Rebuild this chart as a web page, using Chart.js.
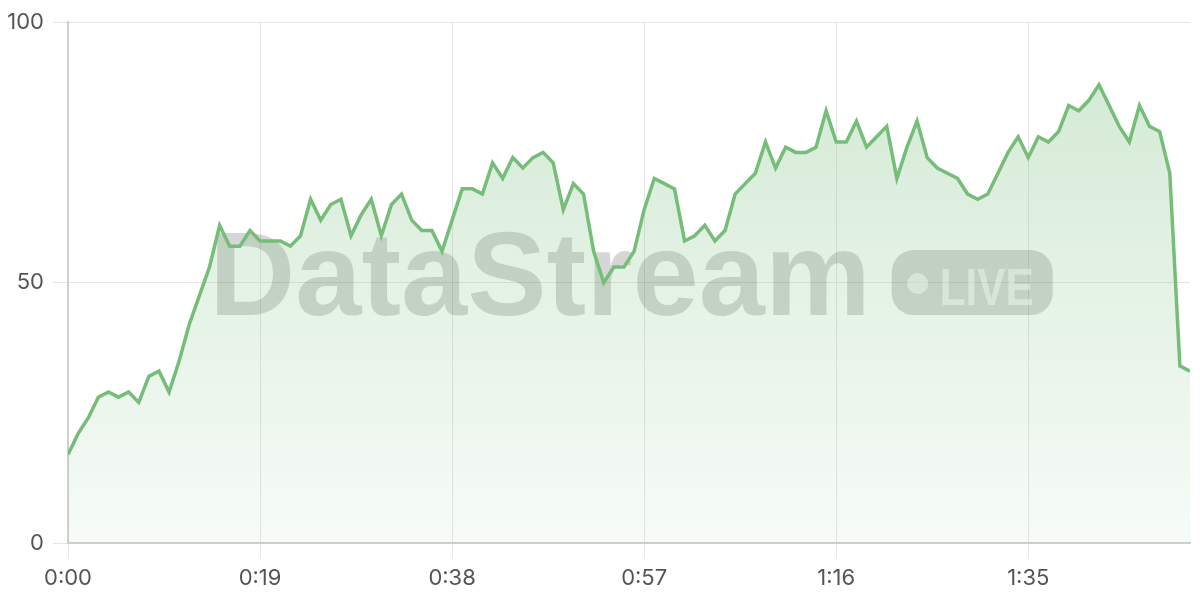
<!DOCTYPE html>
<html>
<head>
<meta charset="utf-8">
<script src="https://cdn.jsdelivr.net/npm/chart.js@4"></script>
<style>
  html, body { margin: 0; padding: 0; background: #ffffff; }
  #wrap { width: 1200px; height: 600px; position: relative; }
</style>
</head>
<body>
<div id="wrap"><canvas id="c" width="1200" height="600"></canvas></div>
<script>
// Values, one per second (0:00 .. 1:51)
const values = [
  17, 21, 24, 28, 29, 28, 29, 27, 32, 33,
  29, 35, 42, 47.5, 53, 61, 57, 57, 60, 58,
  58, 58, 57, 59, 66, 62, 65, 66, 59, 63,
  66, 59, 65, 67, 62, 60, 60, 56, 62, 68,
  68, 67, 73, 70, 74, 72, 74, 75, 73, 64,
  69, 67, 56, 50, 53, 53, 56, 64, 70, 69,
  68, 58, 59, 61, 58, 60, 67, 69, 71, 77,
  72, 76, 75, 75, 76, 83, 77, 77, 81, 76,
  78, 80, 70, 76, 81, 74, 72, 71, 70, 67,
  66, 67, 71, 75, 78, 74, 78, 77, 79, 84,
  83, 85, 88, 84, 80, 77, 84, 80, 79, 71,
  34, 33
];
const tickSeconds = [0, 19, 38, 57, 76, 95];
const tickLabels = ['0:00', '0:19', '0:38', '0:57', '1:16', '1:35'];
const yTicks = [0, 50, 100];
const watermarkText = 'DataStream';
const badgeText = 'LIVE';

const LINE = 'rgb(118, 189, 122)';
const TICK_FONT = { family: 'Inter, "Noto Sans", sans-serif', size: 22 };

const watermarkPlugin = {
  id: 'watermark',
  beforeDatasetsDraw(chart) {
    const { ctx, chartArea } = chart;
    const cx = (chartArea.left + chartArea.right) / 2;
    const cy = (chartArea.top + chartArea.bottom) / 2;
    ctx.save();
    ctx.font = 'bold 119px "Liberation Sans", Arial, sans-serif';
    const tw = ctx.measureText(watermarkText).width;
    const gap = 21, bw = 161, bh = 65;
    const total = tw + gap + bw;
    const x0 = cx - total / 2 + 2;
    const bTop = cy - bh / 2;
    const baseline = bTop + bh;
    ctx.fillStyle = 'rgba(0,0,0,0.16)';
    ctx.textBaseline = 'alphabetic';
    ctx.textAlign = 'left';
    ctx.fillText(watermarkText, x0, baseline);
    const bx = x0 + tw + gap;
    ctx.beginPath();
    ctx.roundRect(bx, bTop, bw, bh, 22);
    ctx.fill();
    ctx.fillStyle = 'rgba(255,255,255,0.6)';
    ctx.beginPath();
    ctx.arc(bx + 26, cy + 1, 10.5, 0, Math.PI * 2);
    ctx.fill();
    ctx.font = '600 52px "Liberation Sans", Arial, sans-serif';
    ctx.fillText(badgeText, bx + 48, bTop + 55, 94);
    ctx.restore();
  }
};

new Chart(document.getElementById('c'), {
  type: 'line',
  data: {
    datasets: [{
      data: values.map((v, i) => ({ x: i, y: v })),
      borderColor: LINE,
      borderWidth: 3.5,
      pointRadius: 0,
      tension: 0,
      fill: 'origin',
      backgroundColor(context) {
        const { chart } = context;
        const area = chart.chartArea;
        if (!area) return 'rgba(118,189,122,0.2)';
        const g = chart.ctx.createLinearGradient(0, area.top, 0, area.bottom);
        g.addColorStop(0, 'rgba(118,189,122,0.34)');
        g.addColorStop(1, 'rgba(118,189,122,0.06)');
        return g;
      }
    }]
  },
  options: {
    responsive: false,
    animation: false,
    layout: { padding: { top: 20, right: 10, left: 0, bottom: 0 } },
    plugins: { legend: { display: false }, tooltip: { enabled: false } },
    scales: {
      x: {
        type: 'linear',
        min: 0,
        max: values.length - 1,
        afterBuildTicks(scale) { scale.ticks = tickSeconds.map(v => ({ value: v })); },
        afterFit(scale) { scale.height = 57; },
        ticks: {
          color: '#555',
          font: TICK_FONT,
          padding: 7,
          maxRotation: 0,
          autoSkip: false,
          callback(v) { const i = tickSeconds.indexOf(v); return i >= 0 ? tickLabels[i] : ''; }
        },
        grid: { color: '#e6e6e6', lineWidth: 1, tickLength: 15, drawOnChartArea: true },
        border: { color: '#cfcfcf', width: 2 }
      },
      y: {
        min: 0,
        max: 100,
        afterBuildTicks(scale) { scale.ticks = yTicks.map(v => ({ value: v })); },
        afterFit(scale) { scale.width = 68; },
        ticks: { color: '#555', font: TICK_FONT, padding: 9 },
        grid: { color: '#e6e6e6', lineWidth: 1, tickLength: 15 },
        border: { color: '#cfcfcf', width: 2 }
      }
    }
  },
  plugins: [watermarkPlugin]
});
</script>
</body>
</html>
